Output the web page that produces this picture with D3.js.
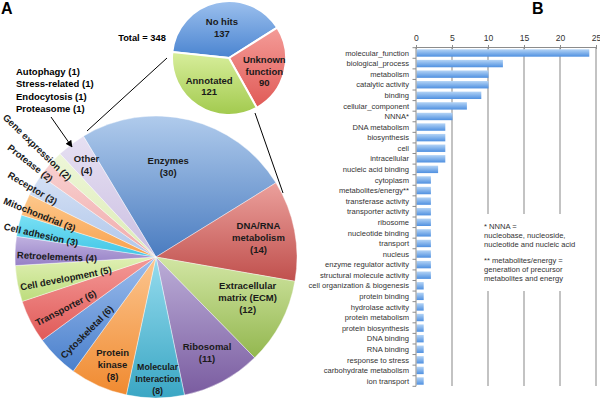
<!DOCTYPE html>
<html><head><meta charset="utf-8">
<script src="https://cdn.jsdelivr.net/npm/d3@7"></script>
<style>body{margin:0;background:#fff}svg{display:block}text{font-family:"Liberation Sans",Arial,sans-serif}</style>
</head><body><svg id="c" width="600" height="400"></svg>
<script>
// ---------- DATA ----------
const topCats = ["No hits", "Unknown function", "Annotated"];
const topVals = [137, 90, 121];
const totalLabel = "Total = 348";
const bigCats = ["Enzymes", "DNA/RNA metabolism", "Extracellular matrix (ECM)", "Ribosomal",
  "Molecular Interaction", "Protein kinase", "Cytoskeletal", "Transporter", "Cell development",
  "Retroelements", "Cell adhesion", "Mitochondrial", "Receptor", "Protease", "Gene expression", "Other"];
const bigVals = [30, 14, 12, 11, 8, 8, 6, 6, 5, 4, 3, 3, 3, 2, 2, 4];
const otherItems = ["Autophagy (1)", "Stress-related (1)", "Endocytosis (1)", "Proteasome (1)"];
const barCats = ["molecular_function", "biological_process", "metabolism", "catalytic activity", "binding",
  "cellular_component", "NNNA*", "DNA metabolism", "biosynthesis", "cell", "intracellular",
  "nucleic acid binding", "cytoplasm", "metabolites/energy**", "transferase activity", "transporter activity",
  "ribosome", "nucleotide binding", "transport", "nucleus", "enzyme regulator activity",
  "structural molecule activity", "cell organization & biogenesis", "protein binding", "hydrolase activity",
  "protein metabolism", "protein biosynthesis", "DNA binding", "RNA binding", "response to stress",
  "carbohydrate metabolism", "ion transport"];
const barVals = [24, 12, 10, 10, 9, 7, 5, 4, 4, 4, 4, 3, 2, 2, 2, 2, 2, 2, 2, 2, 2, 2, 1, 1, 1, 1, 1, 1, 1, 1, 1, 1];
const barTicks = [0, 5, 10, 15, 20, 25];
const noteLines = ["* NNNA =", "nucleobase, nucleoside,", "nucleotide and nucleic acid", "",
  "** metabolites/energy =", "generation of precursor", "metabolites and energy"];

// ---------- STYLE / LAYOUT ----------
const topColors = [["#9cc0ee", "#4a84d0"], ["#f49c98", "#e05a56"], ["#d8ee9c", "#a2ca4e"]];
const topLabelR = [0.55, 0.66, 0.6];
const topLabelA = [0, 6, 2];
const bigColors = [["#b0cbec", "#4a7cc0"], ["#eba09c", "#c0504d"], ["#d2e6a4", "#93b74f"],
  ["#bcaed8", "#7a5ca0"], ["#96dcee", "#3aa6c4"], ["#fcc690", "#f08a30"], ["#9cbcec", "#4a80cc"],
  ["#f49a98", "#e05a58"], ["#e0f0b4", "#bcdc7c"], ["#c0b2e0", "#9680c6"], ["#7ae0f4", "#40c6e6"],
  ["#fdc88c", "#f8a04c"], ["#d4e0f4", "#b0c6ea"], ["#f8d0d0", "#f0aaaa"], ["#eef6d8", "#dcecb6"],
  ["#e6e0f2", "#cbbfe2"]];
// mode: 'in' => horizontal multi-line, pos = radius factor ; 'rad' => rotated, pos = start radius px
const bigLabelMode = ["in", "in", "in", "in", "in", "in", "rad", "rad", "rad", "rad", "rad", "rad", "rad", "rad", "rad", "in"];
const bigLabelPos = [0.65, 0.74, 0.71, 0.77, 0.86, 0.82, 137, 137, 139, 139, 155, 162, 169, 184, 207, 0.82];
const bigLabelA = [-6, 0, -4, 0, -1, -2, 0, 0, 0, 0, 0, 0, 0, 0, 0, 0];
const bigLabelText = ["Enzymes\n(30)", "DNA/RNA\nmetabolism\n(14)", "Extracellular\nmatrix (ECM)\n(12)",
  "Ribosomal\n(11)", "Molecular\nInteraction\n(8)", "Protein\nkinase\n(8)", null, null, null, null, null,
  null, null, null, null, "Other\n(4)"];

const svg = d3.select("#c");
const defs = svg.append("defs");
const deg = Math.PI / 180;

function grad(id, c1, c2) {
  const g = defs.append("linearGradient").attr("id", id).attr("x1", 0).attr("y1", 0).attr("x2", 0).attr("y2", 1);
  g.append("stop").attr("offset", "0%").attr("stop-color", c1);
  g.append("stop").attr("offset", "100%").attr("stop-color", c2);
}

// ---------- PANEL LETTERS ----------
svg.append("text").attr("x", 1).attr("y", 14).attr("font-size", 16).attr("font-weight", "bold").text("A");
svg.append("text").attr("x", 532).attr("y", 14).attr("font-size", 16).attr("font-weight", "bold").text("B");

// ---------- TOP PIE ----------
const tcx = 229, tcy = 58, tr = 57;
const topPie = d3.pie().sort(null).startAngle(-84 * deg).endAngle(276 * deg)(topVals);
const tArc = d3.arc().innerRadius(0).outerRadius(tr);
topColors.forEach((c, i) => grad("tg" + i, c[0], c[1]));
const tg = svg.append("g").attr("transform", `translate(${tcx},${tcy})`);
tg.selectAll("path").data(topPie).join("path")
  .attr("d", tArc).attr("fill", (d, i) => `url(#tg${i})`).attr("stroke", "#fff").attr("stroke-width", 2);
topPie.forEach((d, i) => {
  const m = (d.startAngle + d.endAngle) / 2 + topLabelA[i] * deg, rr = tr * topLabelR[i];
  const x = rr * Math.sin(m), y = -rr * Math.cos(m);
  const words = topCats[i] === "Unknown function" ? ["Unknown", "function"] : [topCats[i]];
  const lines = words.concat([String(topVals[i])]);
  const t = tg.append("text").attr("text-anchor", "middle").attr("font-size", 9.5).attr("font-weight", "bold").attr("fill", "#1a1a1a");
  lines.forEach((l, j) => t.append("tspan").attr("x", x).attr("y", y + (j - (lines.length - 1) / 2) * 11.5 + 3.5).text(l));
});
svg.append("text").attr("x", 142).attr("y", 41).attr("text-anchor", "middle").attr("font-size", 9.3)
  .attr("font-weight", "bold").text(totalLabel);

// ---------- BIG PIE ----------
const bcx = 156, bcy = 257, br = 141;
const bigPie = d3.pie().sort(null).startAngle(-31 * deg).endAngle(329 * deg)(bigVals);
const bArc = d3.arc().innerRadius(0).outerRadius(br);
bigColors.forEach((c, i) => grad("bg" + i, c[0], c[1]));
const bg = svg.append("g").attr("transform", `translate(${bcx},${bcy})`);
bg.selectAll("path").data(bigPie).join("path")
  .attr("d", bArc).attr("fill", (d, i) => `url(#bg${i})`).attr("stroke", "#fff").attr("stroke-width", 0.4);

bigPie.forEach((d, i) => {
  const m = (d.startAngle + d.endAngle) / 2 + bigLabelA[i] * deg;
  if (bigLabelMode[i] === "in") {
    const rr = br * bigLabelPos[i];
    const x = rr * Math.sin(m), y = -rr * Math.cos(m);
    const lines = bigLabelText[i].split("\n");
    const fs = bigCats[i] === "Molecular Interaction" ? 8.8 : 9.5;
    const t = bg.append("text").attr("text-anchor", "middle").attr("font-size", fs).attr("font-weight", "bold").attr("fill", "#1a1a1a");
    lines.forEach((l, j) => t.append("tspan").attr("x", x).attr("y", y + (j - (lines.length - 1) / 2) * 12 + 3.5).text(l));
  } else {
    const rs = bigLabelPos[i];
    const x = rs * Math.sin(m), y = -rs * Math.cos(m);
    const rot = m / deg - 270;
    bg.append("text").attr("transform", `translate(${x},${y}) rotate(${rot})`)
      .attr("y", 4).attr("dy", "0.35em").attr("font-size", 9.5).attr("font-weight", "bold").attr("fill", "#1a1a1a")
      .text(`${bigCats[i]} (${bigVals[i]})`);
  }
});

// other items list
otherItems.forEach((s, i) => {
  svg.append("text").attr("x", 16).attr("y", 75 + i * 12.3).attr("font-size", 9.5).attr("font-weight", "bold").text(s);
});
// arrow
defs.append("marker").attr("id", "arr").attr("viewBox", "0 0 10 10").attr("refX", 9).attr("refY", 5)
  .attr("markerWidth", 7).attr("markerHeight", 7).attr("orient", "auto")
  .append("path").attr("d", "M0,0L10,5L0,10z").attr("fill", "#000");
svg.append("line").attr("x1", 51).attr("y1", 117).attr("x2", 72).attr("y2", 147)
  .attr("stroke", "#000").attr("stroke-width", 1).attr("marker-end", "url(#arr)");
// connector lines
svg.append("line").attr("x1", 167).attr("y1", 58).attr("x2", 87).attr("y2", 131).attr("stroke", "#000").attr("stroke-width", 1);
svg.append("line").attr("x1", 255).attr("y1", 113).attr("x2", 283).attr("y2", 193).attr("stroke", "#000").attr("stroke-width", 1);

// ---------- BAR CHART ----------
const x = d3.scaleLinear().domain([0, 25]).range([416, 596]);
const y = d3.scaleBand().domain(barCats).range([47.7, 386.3]).paddingInner(0.3).paddingOuter(0.15);
grad("barg", "#b4d4f6", "#4f90e0");

// annotation
const note = svg.append("g");
noteLines.forEach((l, i) => {
  if (l) note.append("text").attr("x", 484).attr("y", 229 + i * 8.9 + (i > 3 ? -1.5 : 0)).attr("font-size", 7.6).attr("fill", "#333").text(l);
});
const nb = note.node().getBBox();
const gapTop = nb.y - 8, gapBot = nb.y + nb.height + 8;

// gridlines
barTicks.filter(v => v > 0).forEach(v => {
  const gx = x(v);
  const segs = (gx > nb.x - 4 && gx < nb.x + nb.width + 4) ? [[47, gapTop], [gapBot, 386]] : [[47, 386]];
  segs.forEach(s => svg.append("line").attr("x1", gx).attr("x2", gx).attr("y1", s[0]).attr("y2", s[1])
    .attr("stroke", "#a3a3a3").attr("stroke-width", 1.3));
});

// bars
svg.selectAll("rect.bar").data(barVals).join("rect").attr("class", "bar")
  .attr("x", x(0) + 0.5).attr("y", (d, i) => y(barCats[i])).attr("height", y.bandwidth())
  .attr("width", d => x(d) - x(0)).attr("fill", "url(#barg)");

// top axis
const ax = svg.append("g").attr("transform", "translate(0,47)")
  .call(d3.axisTop(x).tickValues(barTicks).tickSizeInner(3).tickSizeOuter(0).tickPadding(3));
ax.select(".domain").attr("stroke", "#8c8c8c");
ax.selectAll(".tick line").attr("stroke", "#8c8c8c").attr("y2", 2).attr("y1", -2);
ax.selectAll(".tick text").attr("font-size", 8.6).attr("fill", "#333").attr("font-family", '"Liberation Sans",Arial,sans-serif');

// left axis
svg.append("line").attr("x1", 416).attr("x2", 416).attr("y1", 47).attr("y2", 386.3).attr("stroke", "#8c8c8c");
d3.range(barCats.length + 1).forEach(i => {
  const yy = 47.7 + i * y.step();
  svg.append("line").attr("x1", 412.5).attr("x2", 416).attr("y1", yy).attr("y2", yy).attr("stroke", "#8c8c8c");
});
svg.selectAll("text.cat").data(barCats).join("text").attr("class", "cat")
  .attr("x", 409).attr("y", d => y(d) + y.bandwidth() / 2).attr("dy", "0.35em")
  .attr("text-anchor", "end").attr("font-size", 7.6).attr("fill", "#333").text(d => d);
</script></body></html>
